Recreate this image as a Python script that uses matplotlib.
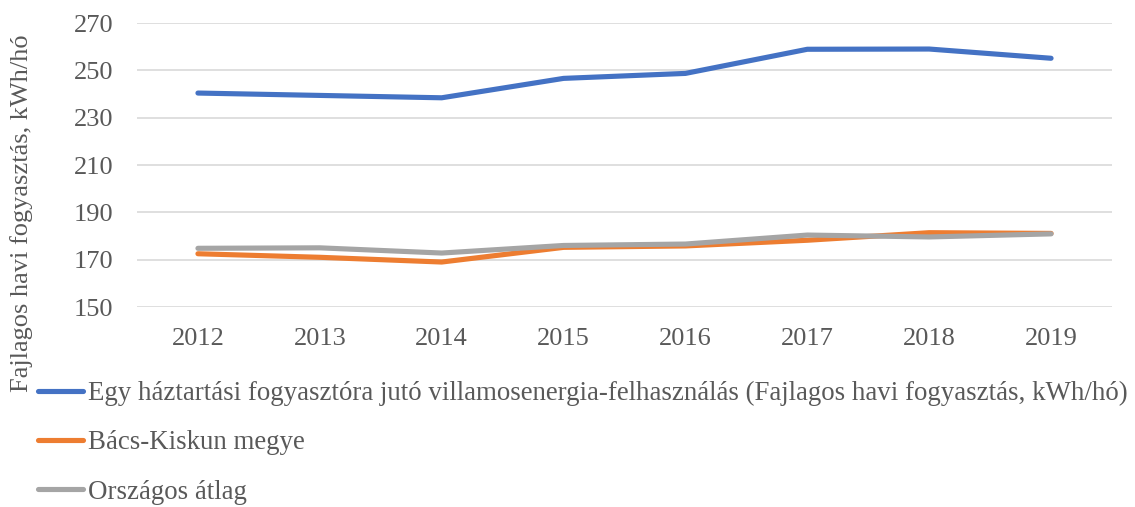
import matplotlib
matplotlib.use("Agg")
import matplotlib.pyplot as plt
from matplotlib.lines import Line2D

years = ["2012", "2013", "2014", "2015", "2016", "2017", "2018", "2019"]
haztartas = [240.4, 239.4, 238.4, 246.6, 248.7, 258.9, 259.0, 255.1]
bacs_kiskun = [172.5, 171.0, 169.0, 175.2, 175.8, 178.2, 181.4, 181.1]
orszagos = [174.8, 175.0, 172.8, 176.0, 176.6, 180.4, 179.6, 180.9]
series_labels = [
    "Egy háztartási fogyasztóra jutó villamosenergia-felhasználás (Fajlagos havi fogyasztás, kWh/hó)",
    "Bács-Kiskun megye",
    "Országos átlag",
]
yticks = [150, 170, 190, 210, 230, 250, 270]
ylabel = "Fajlagos havi fogyasztás, kWh/hó"

colors = ["#4472C4", "#ED7D31", "#A5A5A5"]
txt = "#595959"
W, H = 1135, 507
plt.rcParams['font.family'] = ['Liberation Serif', 'DejaVu Serif']

fig = plt.figure(figsize=(W / 100, H / 100), dpi=100)
ax = fig.add_axes([137 / W, 1 - 307 / H, (1112 - 137) / W, (307 - 23) / H])

x = list(range(len(years)))
lw = 3.7
for vals, c in zip([haztartas, bacs_kiskun, orszagos], colors):
    ax.plot(x, vals, color=c, lw=lw, solid_capstyle='round', solid_joinstyle='round', zorder=3)

ax.set_xlim(-0.5, len(years) - 0.5)
ax.set_ylim(150, 270)
ax.set_yticks(yticks)
ax.set_xticks(x)
ax.set_xticklabels(years)
ax.grid(axis='y', color='#D9D9D9', lw=1.2, zorder=0)
ax.set_axisbelow(True)
for s in ax.spines.values():
    s.set_visible(False)
ax.tick_params(axis='both', length=0, labelsize=19, colors=txt)
ax.tick_params(axis='y', pad=17)
ax.tick_params(axis='x', pad=15)

fig.text(22 / W, 1 - 213 / H, ylabel, rotation=90, ha='center', va='center',
         fontsize=19, color=txt)

handles = [Line2D([0], [0], color=c, lw=lw, solid_capstyle='round') for c in colors]
leg = fig.legend(handles, series_labels, loc='upper left',
                 bbox_to_anchor=(38 / W, 1 - 381 / H), frameon=False,
                 fontsize=19.4, labelcolor=txt, handlelength=1.66, handletextpad=0.2,
                 labelspacing=0.9, borderaxespad=0, borderpad=0)

fig.savefig("out.png", dpi=100)
